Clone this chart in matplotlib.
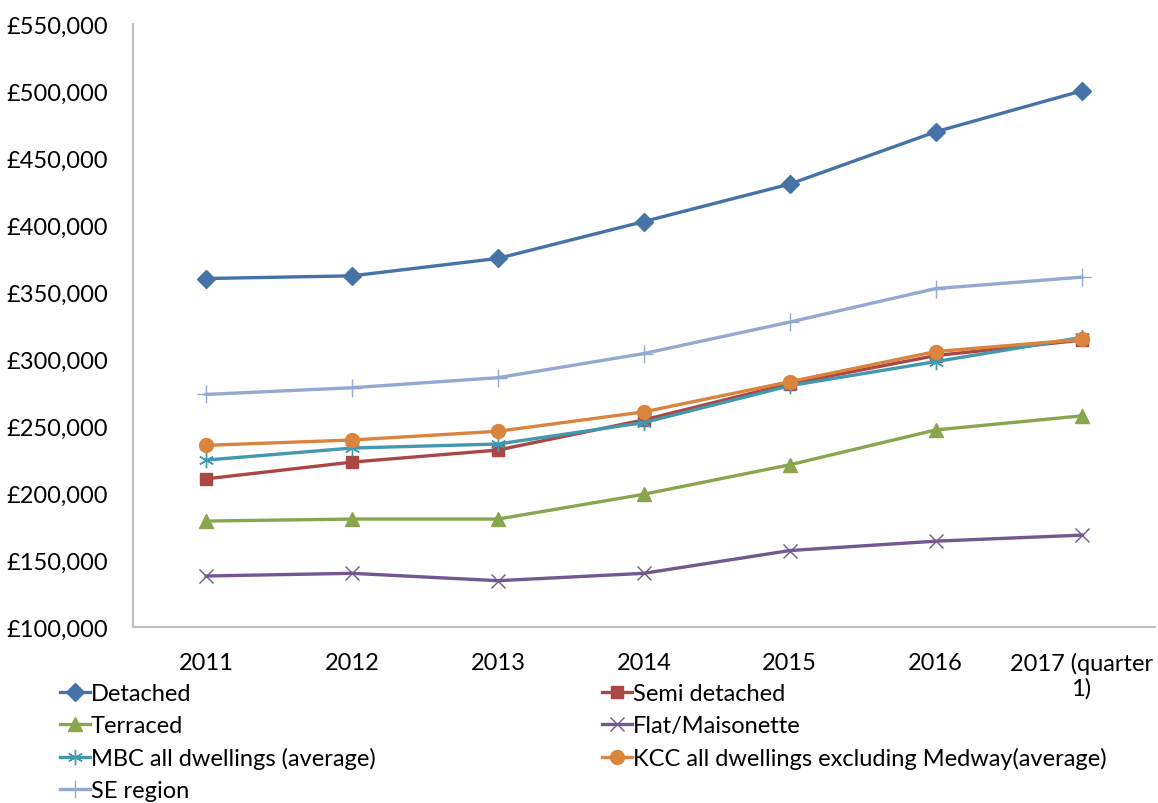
import matplotlib
matplotlib.use("Agg")
import matplotlib.pyplot as plt
from matplotlib.ticker import FuncFormatter, MultipleLocator

plt.rcParams['font.family'] = ['Lato', 'DejaVu Sans']

years = ['2011', '2012', '2013', '2014', '2015', '2016', '2017 (quarter\n1)']

detached = [360000, 362000, 375000, 402500, 430500, 469500, 500000]
semi_detached = [210500, 223000, 232000, 254500, 281500, 302500, 314000]
terraced = [179000, 180500, 180500, 199000, 221000, 247000, 257500]
flat = [138000, 140000, 134500, 140000, 157000, 164000, 168500]
mbc_avg = [224500, 233500, 236500, 252500, 280000, 298000, 316000]
kcc_avg = [235500, 239500, 246000, 260500, 283000, 305500, 314500]
se_region = [273500, 278500, 286000, 304000, 327500, 352500, 361000]

series = [
    ('Detached', detached, '#4572A7', 'D', 9),
    ('Semi detached', semi_detached, '#AA4643', 's', 8),
    ('Terraced', terraced, '#89A54E', '^', 10),
    ('Flat/Maisonette', flat, '#71588F', 'x', 10),
    ('MBC all dwellings (average)', mbc_avg, '#4198AF', (6, 2, 0), 11),
    ('KCC all dwellings excluding Medway(average)', kcc_avg, '#DB843D', 'o', 10),
    ('SE region', se_region, '#93A9CF', '+', 13),
]

fig = plt.figure(figsize=(11.58, 8.04), dpi=100)
ax = fig.add_axes([0.115, 0.219, 0.882, 0.75])

x = range(len(years))
handles = {}
for name, vals, col, mk, ms in series:
    line, = ax.plot(x, vals, color=col, lw=2.4, marker=mk, markersize=ms,
                    markeredgecolor=col, markeredgewidth=1.0, label=name)
    handles[name] = line

ax.set_xlim(-0.5, len(years) - 0.5)
ax.set_ylim(100000, 550000)
ax.yaxis.set_major_locator(MultipleLocator(50000))
ax.yaxis.set_major_formatter(FuncFormatter(lambda v, p: '£{:,.0f}'.format(v)))
ax.set_xticks(list(x))
ax.set_xticklabels(years)

for s in ['top', 'right']:
    ax.spines[s].set_visible(False)
for s in ['left', 'bottom']:
    ax.spines[s].set_color('#BFBFBF')
    ax.spines[s].set_linewidth(1.5)
ax.tick_params(axis='both', length=0, labelsize=17)
ax.tick_params(axis='y', pad=18)
ax.tick_params(axis='x', pad=18)

# legend laid out row by row in two columns
order = ['Detached', 'Terraced', 'MBC all dwellings (average)', 'SE region',
         'Semi detached', 'Flat/Maisonette',
         'KCC all dwellings excluding Medway(average)']
fig.legend([handles[n] for n in order], order, ncol=2, frameon=False,
           loc='upper left', bbox_to_anchor=(0.052, 0.149), fontsize=17,
           handlelength=1.25, handletextpad=0.05, columnspacing=9.6,
           labelspacing=0.46, borderaxespad=0, borderpad=0)

fig.savefig('out.png', dpi=100)
